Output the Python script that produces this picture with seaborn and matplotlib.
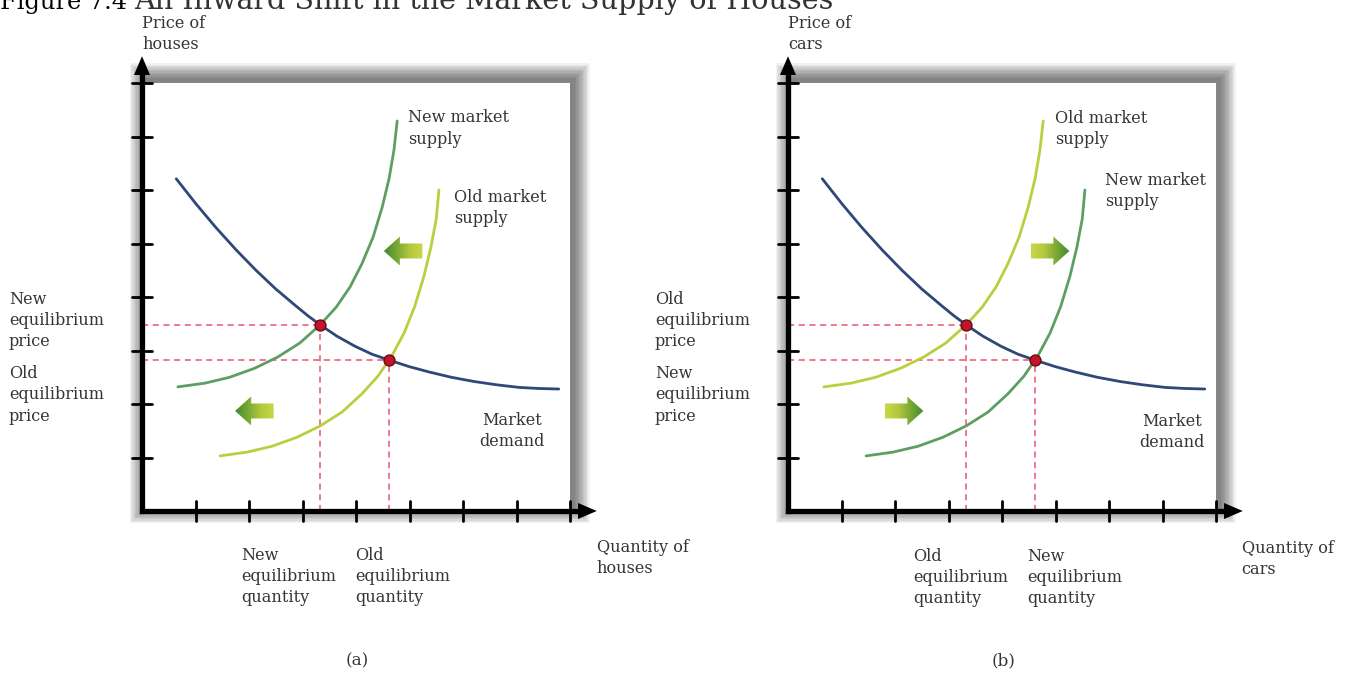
import numpy as np
import pandas as pd
import matplotlib
matplotlib.use("Agg")
import matplotlib.pyplot as plt
import seaborn as sns
from matplotlib.patches import Polygon, Rectangle
from matplotlib.colors import LinearSegmentedColormap

# ---------------- data (axis units: one unit = one tick step) ----------------
tick_values = [1, 2, 3, 4, 5, 6, 7, 8]

demand_x = [0.64, 1.01, 1.38, 1.76, 2.13, 2.50, 2.88, 3.10, 3.33, 3.64, 3.98, 4.30,
            4.62, 4.99, 5.36, 5.78, 6.21, 6.62, 7.05, 7.42, 7.79]
demand_y = [6.21, 5.74, 5.30, 4.88, 4.50, 4.15, 3.83, 3.65, 3.48, 3.27, 3.08, 2.93,
            2.82, 2.70, 2.60, 2.50, 2.42, 2.36, 2.31, 2.29, 2.28]

# supply curve lying to the left (new supply in (a), old supply in (b))
supply_inner_x = [0.67, 1.18, 1.64, 2.11, 2.54, 2.95, 3.33, 3.63, 3.89, 4.11, 4.32, 4.49, 4.62, 4.71, 4.77]
supply_inner_y = [2.32, 2.39, 2.50, 2.67, 2.88, 3.14, 3.48, 3.81, 4.19, 4.62, 5.12, 5.68, 6.22, 6.75, 7.29]

# supply curve lying to the right (old supply in (a), new supply in (b))
supply_outer_x = [1.46, 1.96, 2.43, 2.90, 3.33, 3.74, 4.11, 4.41, 4.67, 4.90, 5.10, 5.27, 5.40, 5.50, 5.55]
supply_outer_y = [1.03, 1.10, 1.21, 1.38, 1.59, 1.85, 2.19, 2.52, 2.90, 3.33, 3.83, 4.39, 4.93, 5.46, 6.00]

equilibrium_x = [3.33, 4.62]
equilibrium_y = [3.48, 2.82]

panel_letters = ["(a)", "(b)"]
y_axis_titles = ["Price of\nhouses", "Price of\ncars"]
x_axis_titles = ["Quantity of\nhouses", "Quantity of\ncars"]
inner_labels = ["New market\nsupply", "Old market\nsupply"]
outer_labels = ["Old market\nsupply", "New market\nsupply"]
upper_price_labels = ["New\nequilibrium\nprice", "Old\nequilibrium\nprice"]
lower_price_labels = ["Old\nequilibrium\nprice", "New\nequilibrium\nprice"]
left_qty_labels = ["New\nequilibrium\nquantity", "Old\nequilibrium\nquantity"]
right_qty_labels = ["Old\nequilibrium\nquantity", "New\nequilibrium\nquantity"]
shift_direction = ["left", "right"]
shift_arrow_x = [[4.52, 1.74], [4.54, 1.81]]
shift_arrow_y = [4.86, 1.87]

title_num = "Figure 7.4"
title_text = "An Inward Shift in the Market Supply of Houses"

# ---------------- style ----------------
sns.set_theme(style="white")
plt.rcParams["font.family"] = ["DejaVu Serif"]

GREEN = "#5f9e62"
YELLOW = "#b9cf3e"
NAVY = "#2f4877"
RED_DASH = "#e5566c"
TEXT = "#353535"
FS = 11.6
LS = 1.33

U = 53.5
FIG_W, FIG_H = 1350, 674
ORIGINS = [(142, 511), (788, 511)]

fig = plt.figure(figsize=(13.5, 6.74), dpi=100)
fig.patch.set_facecolor("white")

arrow_cmap = LinearSegmentedColormap.from_list(
    "shift", ["#3f8a30", "#78a836", "#b3c93e", "#c9d746"])


def grad_arrow(ax, x0, yc, direction, length=0.72):
    H, h, L = 0.27, 0.14, 0.30
    x1 = x0 + length
    if direction == "left":
        b = x0 + L
        pts = [(x0, yc), (b, yc + H), (b, yc + h), (x1, yc + h),
               (x1, yc - h), (b, yc - h), (b, yc - H)]
        grad = np.linspace(0, 1, 256)[None, :]
    else:
        b = x1 - L
        pts = [(x1, yc), (b, yc + H), (b, yc + h), (x0, yc + h),
               (x0, yc - h), (b, yc - h), (b, yc - H)]
        grad = np.linspace(1, 0, 256)[None, :]
    poly = Polygon(pts, closed=True, fc="none", ec="none")
    ax.add_patch(poly)
    im = ax.imshow(grad, cmap=arrow_cmap, extent=[x0, x1, yc - H, yc + H],
                   aspect="auto", origin="lower", zorder=3, interpolation="bilinear")
    im.set_clip_path(poly)


def ptext(ax, x, y, s, **kw):
    base = dict(fontsize=FS, color=TEXT, linespacing=LS, va="top", ha="left")
    base.update(kw)
    ax.text(x, y, s, **base)


for i in range(2):
    ax = fig.add_axes([0.5 * i, 0, 0.5, 1])
    ox, oy = ORIGINS[i]
    xlim = ((675 * i - ox) / U, (675 * (i + 1) - ox) / U)
    ylim = ((oy - FIG_H) / U, oy / U)
    ax.set_axis_off()

    # soft drop shadow around the plotting box (stronger towards top/right)
    for k in range(12, 0, -1):
        d = k * 0.025
        ax.add_patch(Rectangle((-d + 0.07, -d + 0.07), 8 + 2 * d, 8 + 2 * d, fc="black",
                               ec="none", alpha=0.05, zorder=0.5))
    ax.add_patch(Rectangle((0, 0), 8, 8, fc="white", ec="none", zorder=0.6))

    # dashed guides
    for ex, ey in zip(equilibrium_x, equilibrium_y):
        ax.plot([0, ex], [ey, ey], color=RED_DASH, lw=1.1, ls=(0, (4, 3)), zorder=1)
        ax.plot([ex, ex], [0, ey], color=RED_DASH, lw=1.1, ls=(0, (4, 3)), zorder=1)

    inner_col = GREEN if i == 0 else YELLOW
    outer_col = YELLOW if i == 0 else GREEN
    df_in = pd.DataFrame({"q": supply_inner_x, "p": supply_inner_y})
    df_out = pd.DataFrame({"q": supply_outer_x, "p": supply_outer_y})
    df_d = pd.DataFrame({"q": demand_x, "p": demand_y})
    sns.lineplot(data=df_in, x="q", y="p", ax=ax, color=inner_col, lw=2.0,
                 sort=False, estimator=None, zorder=2)
    sns.lineplot(data=df_out, x="q", y="p", ax=ax, color=outer_col, lw=2.0,
                 sort=False, estimator=None, zorder=2)
    sns.lineplot(data=df_d, x="q", y="p", ax=ax, color=NAVY, lw=2.0,
                 sort=False, estimator=None, zorder=2.5)

    # shift arrows
    for ax0, ay in zip(shift_arrow_x[i], shift_arrow_y):
        grad_arrow(ax, ax0, ay, shift_direction[i])

    # equilibrium dots
    sns.scatterplot(x=equilibrium_x, y=equilibrium_y, ax=ax, s=62,
                    color="#c3142e", edgecolor="#6a0a14", linewidth=1.0, zorder=7)

    # axes with arrowheads and ticks
    ax.plot([0, 8.2], [0, 0], color="black", lw=3.8, solid_capstyle="projecting", zorder=8)
    ax.plot([0, 0], [0, 8.2], color="black", lw=3.8, solid_capstyle="projecting", zorder=8)
    ax.add_patch(Polygon([(8.15, 0.15), (8.5, 0), (8.15, -0.15)], fc="black", ec="none", zorder=8))
    ax.add_patch(Polygon([(-0.15, 8.15), (0, 8.5), (0.15, 8.15)], fc="black", ec="none", zorder=8))
    for t in tick_values:
        ax.plot([t, t], [-0.19, 0.19], color="black", lw=2.0, zorder=8)
        ax.plot([-0.19, 0.19], [t, t], color="black", lw=2.0, zorder=8)

    # texts
    ptext(ax, 0.0, 9.27, y_axis_titles[i])
    ptext(ax, -2.49, 4.12, upper_price_labels[i])
    ptext(ax, -2.49, 2.73, lower_price_labels[i])
    if i == 0:
        ptext(ax, 1.85, -0.67, left_qty_labels[i])
        ptext(ax, 3.98, -0.67, right_qty_labels[i])
        ptext(ax, 4.97, 7.51, inner_labels[i])
        ptext(ax, 5.83, 6.02, outer_labels[i])
        ptext(ax, 6.92, 1.85, "Market\ndemand", ha="center", multialignment="center")
        ptext(ax, 8.50, -0.52, x_axis_titles[i])
    else:
        ptext(ax, 2.34, -0.69, left_qty_labels[i])
        ptext(ax, 4.48, -0.69, right_qty_labels[i])
        ptext(ax, 4.99, 7.50, inner_labels[i])
        ptext(ax, 5.93, 6.34, outer_labels[i])
        ptext(ax, 7.18, 1.83, "Market\ndemand", ha="center", multialignment="center")
        ptext(ax, 8.48, -0.54, x_axis_titles[i])
    ax.text(4.03, -2.80, panel_letters[i], fontsize=FS + 0.5, color=TEXT,
            ha="center", va="center")

    ax.set_xlim(*xlim)
    ax.set_ylim(*ylim)
    ax.set_xlabel("")
    ax.set_ylabel("")

# title (cut at the top edge, as in the source)
yb = 1 - 9 / FIG_H
t1 = fig.text(0, yb, title_num, fontsize=22, color="black", va="baseline", ha="left")
t2 = fig.text(134 / FIG_W, yb, title_text, fontsize=22, color="#333333",
              va="baseline", ha="left")
fig.canvas.draw()
r = fig.canvas.get_renderer()
t1.set_fontsize(22 * 127 / t1.get_window_extent(r).width)
t2.set_fontsize(22 * 700 / t2.get_window_extent(r).width)

fig.savefig("out.png", dpi=100, facecolor="white")
